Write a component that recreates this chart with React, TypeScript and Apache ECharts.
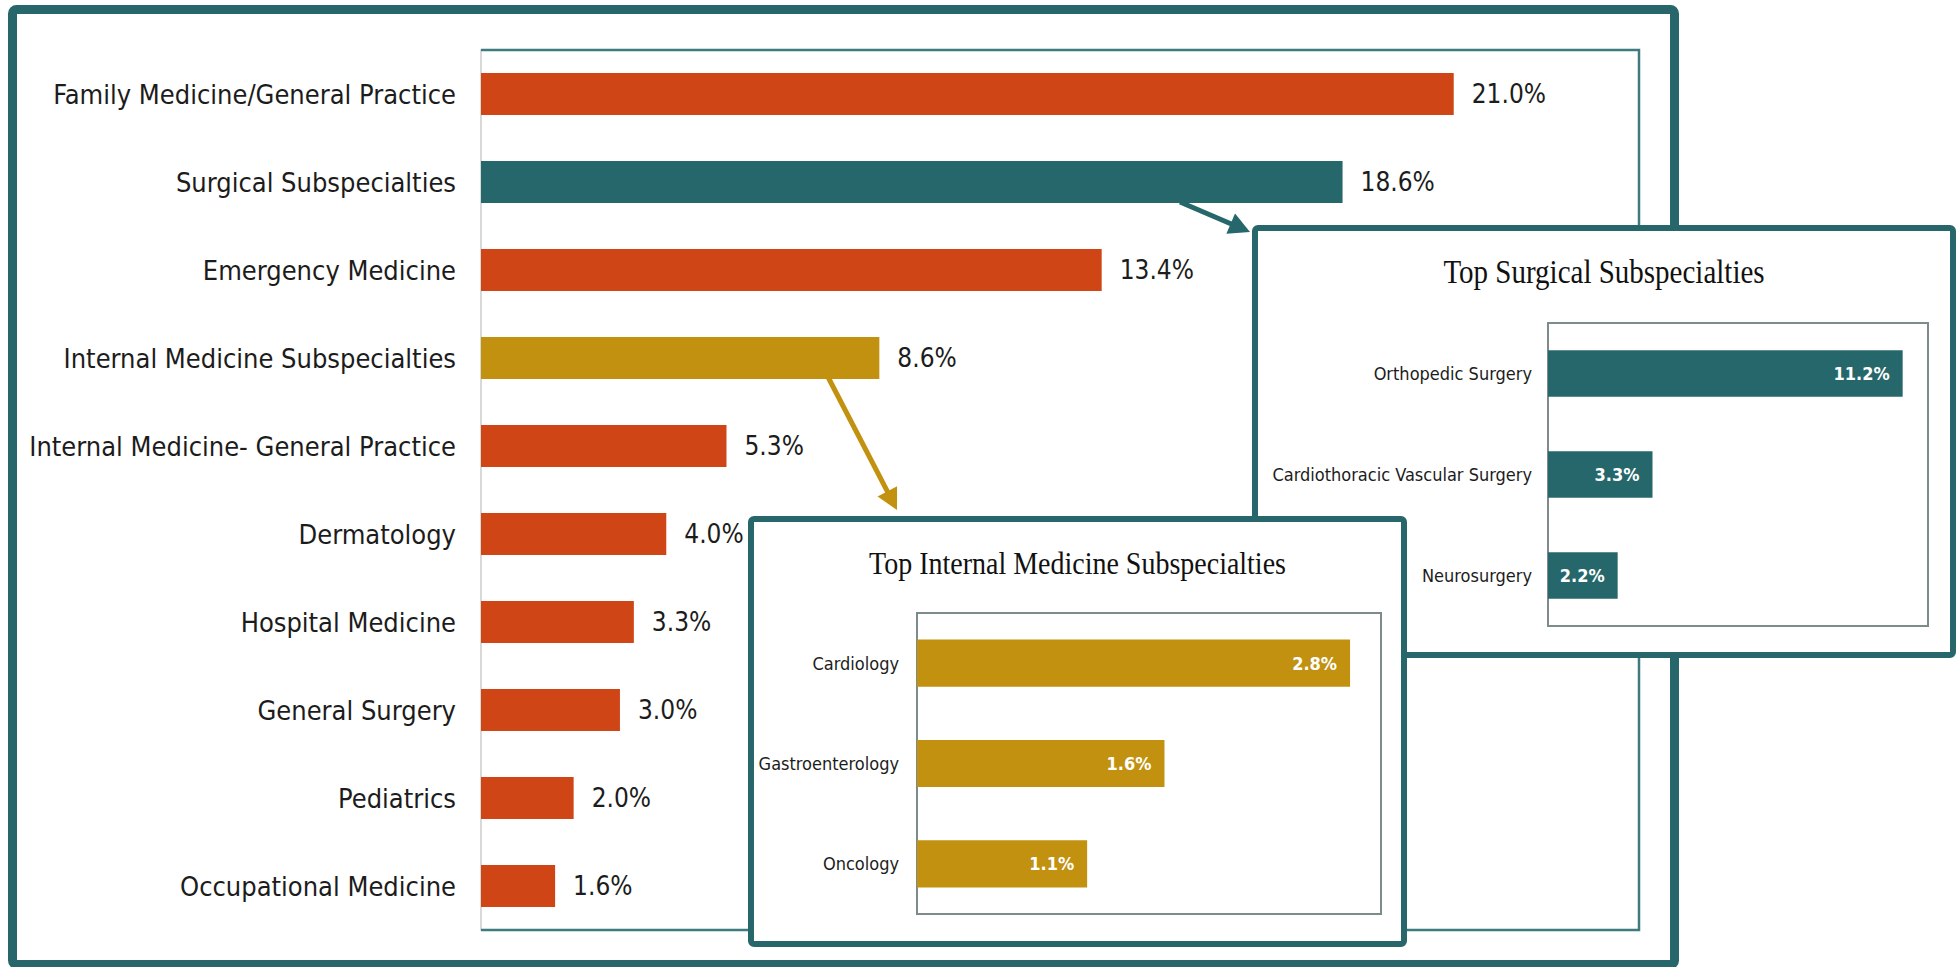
import React, { useEffect, useRef } from "react";
import * as echarts from "echarts";

// ---------- data ----------
const mainCategories = [
  "Family Medicine/General Practice",
  "Surgical Subspecialties",
  "Emergency Medicine",
  "Internal Medicine Subspecialties",
  "Internal Medicine- General Practice",
  "Dermatology",
  "Hospital Medicine",
  "General Surgery",
  "Pediatrics",
  "Occupational Medicine",
];
const mainValues = [21.0, 18.6, 13.4, 8.6, 5.3, 4.0, 3.3, 3.0, 2.0, 1.6];
const mainGroups = ["other", "surgical", "other", "internal", "other", "other", "other", "other", "other", "other"];

const surgicalTitle = "Top Surgical Subspecialties";
const surgicalCategories = ["Orthopedic Surgery", "Cardiothoracic Vascular Surgery", "Neurosurgery"];
const surgicalValues = [11.2, 3.3, 2.2];

const internalTitle = "Top Internal Medicine Subspecialties";
const internalCategories = ["Cardiology", "Gastroenterology", "Oncology"];
const internalValues = [2.8, 1.6, 1.1];

const mainAxisMax = 25;
const surgicalAxisMax = 12;
const internalAxisMax = 3;

// ---------- style ----------
const ORANGE = "#D04516";
const TEAL = "#26676B";
const GOLD = "#C1910F";
const FRAME_TEAL = "#27676B";
const SANS = "'DejaVu Sans Condensed', 'Liberation Sans Narrow', sans-serif";
const SERIF = "'Liberation Serif', 'DejaVu Serif', serif";

const G1 = { left: 481, top: 50, width: 1158, height: 880 };
const G2 = { left: 1548, top: 323, width: 380, height: 303 };
const G3 = { left: 917, top: 613, width: 464, height: 301 };
const BOX2 = { x: 1255, y: 228, w: 698, h: 427 };
const BOX3 = { x: 751, y: 519, w: 653, h: 425 };

const groupColor: Record<string, string> = { other: ORANGE, surgical: TEAL, internal: GOLD };

function arrow(x1: number, y1: number, x2: number, y2: number, color: string, z: number) {
  const dx = x2 - x1;
  const dy = y2 - y1;
  const len = Math.sqrt(dx * dx + dy * dy);
  const ux = dx / len;
  const uy = dy / len;
  const headLen = 21;
  const halfW = 11;
  const bx = x2 - ux * headLen;
  const by = y2 - uy * headLen;
  return [
    {
      type: "line",
      z,
      silent: true,
      shape: { x1, y1, x2: bx + ux * 2, y2: by + uy * 2 },
      style: { stroke: color, lineWidth: 5 },
    },
    {
      type: "polygon",
      z,
      silent: true,
      shape: {
        points: [
          [x2, y2],
          [bx - uy * halfW, by + ux * halfW],
          [bx + uy * halfW, by - ux * halfW],
        ],
      },
      style: { fill: color },
    },
  ];
}

function plotFrame(g: { left: number; top: number; width: number; height: number }, z: number) {
  return {
    type: "rect",
    z,
    silent: true,
    shape: { x: g.left, y: g.top, width: g.width, height: g.height },
    style: { fill: "none", stroke: "#7d8b8d", lineWidth: 2 },
  };
}

function insetBox(b: { x: number; y: number; w: number; h: number }, z: number) {
  return {
    type: "rect",
    z,
    silent: true,
    shape: { x: b.x, y: b.y, width: b.w, height: b.h, r: 3 },
    style: { fill: "#ffffff", stroke: FRAME_TEAL, lineWidth: 6 },
  };
}

function insetTitle(text: string, b: { x: number; y: number; w: number; h: number }, size: number, z: number) {
  return {
    type: "text",
    z,
    silent: true,
    x: b.x + b.w / 2,
    y: b.y + 44,
    scaleY: 1.15,
    style: {
      text,
      fill: "#111",
      font: `${size}px ${SERIF}`,
      align: "center",
      verticalAlign: "middle",
    },
  };
}

const gridBase = { containLabel: false, outerBoundsMode: "none" };

export default function App() {
  const ref = useRef<HTMLDivElement>(null);

  useEffect(() => {
    if (!ref.current) return;
    const chart = echarts.init(ref.current, undefined, { renderer: "svg" });
    const g1r = G1.left + G1.width;
    const g1b = G1.top + G1.height;
    const pct = (p: any) => Number(p.value).toFixed(1) + "%";

    const option: any = {
      animation: false,
      backgroundColor: "#ffffff",
      grid: [
        { ...G1, ...gridBase },
        { ...G2, ...gridBase },
        { ...G3, ...gridBase },
      ],
      xAxis: [
        { gridIndex: 0, type: "value", min: 0, max: mainAxisMax, show: false },
        { gridIndex: 1, type: "value", min: 0, max: surgicalAxisMax, show: false },
        { gridIndex: 2, type: "value", min: 0, max: internalAxisMax, show: false },
      ],
      yAxis: [
        {
          gridIndex: 0,
          type: "category",
          data: mainCategories,
          inverse: true,
          axisTick: { show: false },
          axisLine: { show: true, lineStyle: { color: "#d9d9d9", width: 2 } },
          axisLabel: { fontSize: 27, color: "#1c1c1c", margin: 25, fontFamily: SANS },
          splitLine: { show: false },
        },
        {
          gridIndex: 1,
          type: "category",
          data: surgicalCategories,
          inverse: true,
          z: 12,
          axisTick: { show: false },
          axisLine: { show: false },
          axisLabel: { fontSize: 18, color: "#1c1c1c", margin: 16, fontFamily: SANS },
          splitLine: { show: false },
        },
        {
          gridIndex: 2,
          type: "category",
          data: internalCategories,
          inverse: true,
          z: 22,
          axisTick: { show: false },
          axisLine: { show: false },
          axisLabel: { fontSize: 18, color: "#1c1c1c", margin: 18, fontFamily: SANS },
          splitLine: { show: false },
        },
      ],
      series: [
        {
          type: "bar",
          xAxisIndex: 0,
          yAxisIndex: 0,
          z: 2,
          barCategoryGap: "52%",
          data: mainValues.map((v, i) => ({ value: v, itemStyle: { color: groupColor[mainGroups[i]] } })),
          label: {
            show: true,
            position: "right",
            distance: 18,
            fontSize: 26,
            color: "#1c1c1c",
            fontFamily: SANS,
            formatter: pct,
          },
        },
        {
          type: "bar",
          xAxisIndex: 1,
          yAxisIndex: 1,
          z: 12,
          barCategoryGap: "54%",
          itemStyle: { color: TEAL },
          data: surgicalValues,
          label: {
            show: true,
            position: "insideRight",
            distance: 13,
            fontSize: 18,
            fontWeight: "bold",
            color: "#ffffff",
            fontFamily: SANS,
            formatter: pct,
          },
        },
        {
          type: "bar",
          xAxisIndex: 2,
          yAxisIndex: 2,
          z: 22,
          barCategoryGap: "53%",
          itemStyle: { color: GOLD },
          data: internalValues,
          label: {
            show: true,
            position: "insideRight",
            distance: 13,
            fontSize: 18,
            fontWeight: "bold",
            color: "#ffffff",
            fontFamily: SANS,
            formatter: pct,
          },
        },
      ],
      graphic: [
        {
          type: "rect",
          z: 1,
          silent: true,
          shape: { x: 12.5, y: 9.5, width: 1662, height: 955, r: 4 },
          style: { fill: "none", stroke: FRAME_TEAL, lineWidth: 9 },
        },
        {
          type: "polyline",
          z: 3,
          silent: true,
          shape: { points: [[G1.left, G1.top], [g1r, G1.top], [g1r, g1b], [G1.left, g1b]] },
          style: { fill: "none", stroke: "#3f7a7f", lineWidth: 2.5 },
        },
        ...arrow(1180, 202, 1250, 232, TEAL, 5),
        ...arrow(828, 377, 897, 510, GOLD, 5),
        insetBox(BOX2, 10),
        plotFrame(G2, 11),
        insetTitle(surgicalTitle, BOX2, 29, 12),
        insetBox(BOX3, 20),
        plotFrame(G3, 21),
        insetTitle(internalTitle, BOX3, 28, 22),
      ],
    };

    chart.setOption(option);
    return () => chart.dispose();
  }, []);

  return (
    <div
      ref={ref}
      style={{ position: "absolute", left: 0, top: 0, width: 1959, height: 967, background: "#fff" }}
    />
  );
}
